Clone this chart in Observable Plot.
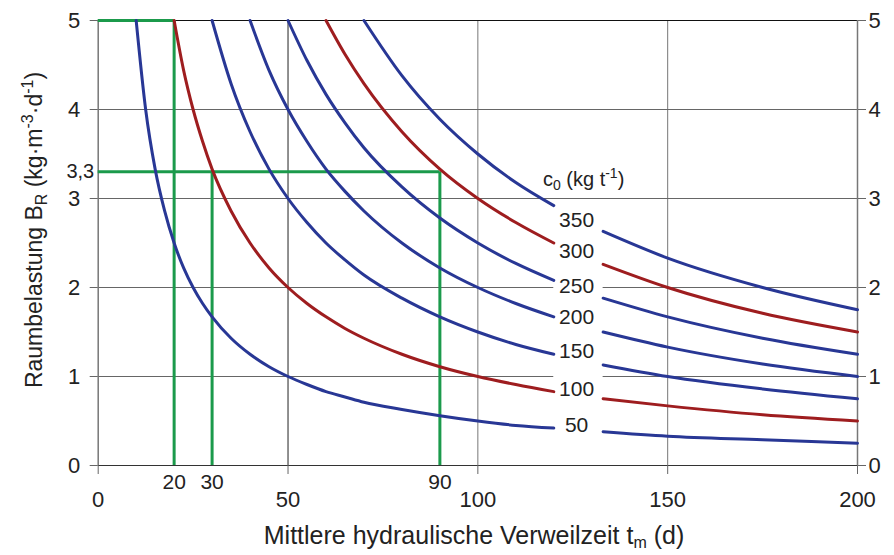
<!DOCTYPE html>
<html>
<head>
<meta charset="utf-8">
<script src="https://cdn.jsdelivr.net/npm/d3@7"></script>
<script src="https://cdn.jsdelivr.net/npm/@observablehq/plot@0.6"></script>
<style>
  html, body { margin: 0; padding: 0; background: #fff; }
  #chart svg { display: block; overflow: visible; }
</style>
</head>
<body>
<div id="chart"></div>
<script>
// Mean hydraulic retention time t_m (d); 126 = label column (gap in curves)
const tm = [10,12.5,15,17.5,20,22.5,25,27.5,30,35,40,45,50,55,60,65,70,80,90,100,110,120,126,133,150,175,200];
const N = null;
// Raumbelastung B_R read for each input concentration c0
const b50  = [5,4,3.33,2.86,2.5,2.22,2,1.82,1.67,1.43,1.25,1.11,1,0.91,0.83,0.77,0.71,0.63,0.56,0.5,0.45,0.42,N,0.38,0.33,0.29,0.25];
const b100 = [N,N,N,N,5,4.44,4,3.64,3.33,2.86,2.5,2.22,2,1.82,1.67,1.54,1.43,1.25,1.11,1,0.91,0.83,N,0.75,0.67,0.57,0.5];
const b150 = [N,N,N,N,N,N,N,N,5,4.29,3.75,3.33,3,2.73,2.5,2.31,2.14,1.88,1.67,1.5,1.36,1.25,N,1.13,1,0.86,0.75];
const b200 = [N,N,N,N,N,N,N,N,N,N,5,4.44,4,3.64,3.33,3.08,2.86,2.5,2.22,2,1.82,1.67,N,1.5,1.33,1.14,1];
const b250 = [N,N,N,N,N,N,N,N,N,N,N,N,5,4.55,4.17,3.85,3.57,3.13,2.78,2.5,2.27,2.08,N,1.88,1.67,1.43,1.25];
const b300 = [N,N,N,N,N,N,N,N,N,N,N,N,N,N,5,4.62,4.29,3.75,3.33,3,2.73,2.5,N,2.26,2,1.71,1.5];
const b350 = [N,N,N,N,N,N,N,N,N,N,N,N,N,N,N,N,5,4.38,3.89,3.5,3.18,2.92,N,2.63,2.33,2,1.75];

const c0Values = [50,100,150,200,250,300,350];
const seriesB = [b50,b100,b150,b200,b250,b300,b350];
const seriesColor = ["blue","red","blue","blue","blue","red","blue"];

// curve labels column
const labelT = 126;
const labelB = [0.45,0.86,1.28,1.67,2.01,2.41,2.75];
const headerT = 128;
const headerB = 3.21;
const gapT = [120, 133];

// green guide lines (example reading)
const guideT = [20, 30, 90];
const guideB = [5, 3.3, 3.3];
const guideHB = [5, 3.3];
const guideHT = [20, 90];

// tick labels
const xTicks = [0,50,100,150,200];
const xExtraTicks = [20,30,90];
const yTicks = [0,1,2,3,4,5];
const yExtraTicks = [3.3];
const yGridFull = [3,4];
const yGridBroken = [1,2];

const palette = {blue: "#283795", red: "#9e1d1f"};
const green = "#1b9a4b";
const font = "'Liberation Sans', Arial, Helvetica, sans-serif";

const lineMarks = c0Values.map((c, k) => {
  const rows = tm.map((t, i) => ({t, b: seriesB[k][i]}));
  return Plot.line(rows, {x: "t", y: "b", stroke: palette[seriesColor[k]], strokeWidth: 3, curve: "monotone-x"});
});

const labelRows = c0Values.map((c, k) => ({t: labelT, b: labelB[k], txt: String(c)}));
const brokenGrid = yGridBroken.flatMap(b => [
  {b, x1: 0, x2: gapT[0]},
  {b, x1: gapT[1], x2: 200}
]);

const plot = Plot.plot({
  width: 894,
  height: 555,
  marginLeft: 97.7,
  marginRight: 37,
  marginTop: 20,
  marginBottom: 90,
  style: {fontFamily: font, fontSize: "22px", color: "#222", background: "#fff"},
  x: {domain: [0, 200]},
  y: {domain: [0, 5]},
  marks: [
    Plot.gridX([50], {stroke: "#222", strokeOpacity: 1, strokeWidth: 1}),
    Plot.gridX([100, 150], {stroke: "#777", strokeOpacity: 1, strokeWidth: 1}),
    Plot.ruleY(yGridFull, {stroke: "#666", strokeWidth: 1}),
    Plot.ruleY(brokenGrid, {y: "b", x1: "x1", x2: "x2", stroke: "#666", strokeWidth: 1}),
    Plot.ruleY([5], {stroke: "#111", strokeWidth: 1}),
    Plot.ruleY([0], {stroke: "#333", strokeWidth: 1.2}),
    Plot.ruleX([0], {stroke: "#777", strokeWidth: 1.5}),
    Plot.ruleX([200], {stroke: "#777", strokeWidth: 1.5}),
    Plot.axisX({ticks: xTicks, anchor: "bottom", tickSize: 9, tickPadding: 17, label: null, stroke: "#666", fill: "#222", fontSize: 22}),
    Plot.axisX({ticks: xExtraTicks, anchor: "bottom", tickSize: 0, tickPadding: 9, label: null, fill: "#222", fontSize: 21}),
    Plot.axisY({ticks: yTicks, anchor: "left", tickSize: 8, tickPadding: 10, label: null, tickFormat: d3.format("d"), stroke: "#666", fill: "#222", fontSize: 22}),
    Plot.axisY({ticks: yExtraTicks, anchor: "left", tickSize: 0, tickPadding: 4, label: null, tickFormat: () => "3,3", fill: "#222", fontSize: 20}),
    Plot.axisY({ticks: yTicks, anchor: "right", tickSize: 8, tickPadding: 3, label: null, tickFormat: d3.format("d"), stroke: "#666", fill: "#222", fontSize: 22}),
    Plot.ruleX(guideT.map((t, i) => ({t, b: guideB[i]})), {x: "t", y1: 0, y2: "b", stroke: green, strokeWidth: 3}),
    Plot.ruleY(guideHB.map((b, i) => ({b, t: guideHT[i]})), {y: "b", x1: 0, x2: "t", stroke: green, strokeWidth: 3}),
    ...lineMarks,
    Plot.text(labelRows, {x: "t", y: "b", text: "txt", fontSize: 21, fill: "#222"})
  ]
});

document.getElementById("chart").appendChild(plot);

const svg = d3.select(plot);
const xs = plot.scale("x"), ys = plot.scale("y");

// header c0 (kg t^-1)
const hdr = svg.append("text")
  .attr("x", xs.apply(headerT)).attr("y", ys.apply(headerB))
  .attr("text-anchor", "middle").attr("dy", "0.35em")
  .style("font-family", font).style("font-size", "20px").attr("fill", "#222");
hdr.append("tspan").text("c");
hdr.append("tspan").attr("dy", "4").style("font-size", "14px").text("0");
hdr.append("tspan").attr("dy", "-4").text(" (kg t");
hdr.append("tspan").attr("dy", "-8").style("font-size", "14px").text("-1");
hdr.append("tspan").attr("dy", "8").text(")");

// x axis title
const xt = svg.append("text")
  .attr("x", 474).attr("y", 544)
  .attr("text-anchor", "middle")
  .style("font-family", font).style("font-size", "25px").attr("fill", "#222");
xt.append("tspan").text("Mittlere hydraulische Verweilzeit t");
xt.append("tspan").attr("dy", "4").style("font-size", "16px").text("m");
xt.append("tspan").attr("dy", "-4").text(" (d)");

// y axis title
const yt = svg.append("text")
  .attr("transform", "translate(42,230) rotate(-90)")
  .attr("text-anchor", "middle")
  .style("font-family", font).style("font-size", "23px").attr("fill", "#222");
yt.append("tspan").text("Raumbelastung B");
yt.append("tspan").attr("dy", "5").style("font-size", "16px").text("R");
yt.append("tspan").attr("dy", "-5").text(" (kg·m");
yt.append("tspan").attr("dy", "-9").style("font-size", "16px").text("-3");
yt.append("tspan").attr("dy", "9").text("·d");
yt.append("tspan").attr("dy", "-9").style("font-size", "16px").text("-1");
yt.append("tspan").attr("dy", "9").text(")");
</script>
</body>
</html>
